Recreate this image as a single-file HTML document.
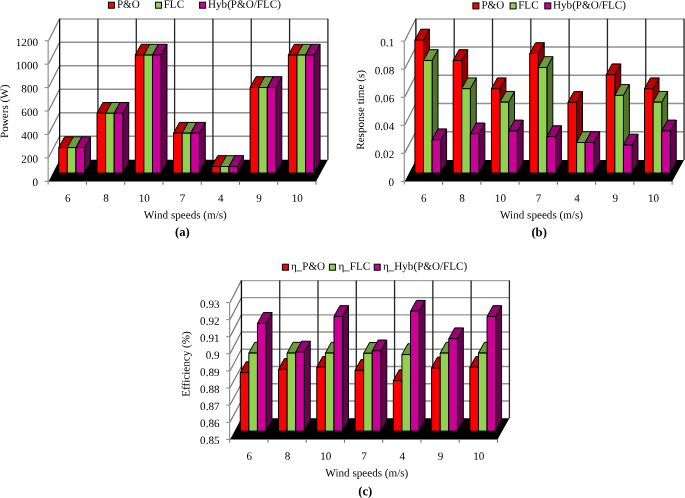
<!DOCTYPE html>
<html><head><meta charset="utf-8"><title>Figure</title>
<style>
html,body{margin:0;padding:0;background:#fff;}
body{width:685px;height:498px;overflow:hidden;}
svg{display:block;}
text{font-family:"Liberation Serif",serif;font-size:11.13px;fill:#000;text-rendering:geometricPrecision;}
</style></head><body>
<svg width="685" height="498" viewBox="0 0 685 498" style="will-change:transform">
<rect width="685" height="498" fill="#fff"/>
<g id="chart-a">
<line x1="59.63" y1="19" x2="327.9" y2="19" stroke="#a2a2a2" stroke-width="1.45"/>
<line x1="48.55" y1="40.75" x2="59.63" y2="18.8" stroke="#787878" stroke-width="1.2"/>
<line x1="59.63" y1="42.28" x2="327.9" y2="42.28" stroke="#929292" stroke-width="1.45"/>
<line x1="48.55" y1="64.09" x2="59.63" y2="42.28" stroke="#787878" stroke-width="1.2"/>
<line x1="59.63" y1="65.77" x2="327.9" y2="65.77" stroke="#929292" stroke-width="1.45"/>
<line x1="48.55" y1="87.43" x2="59.63" y2="65.77" stroke="#787878" stroke-width="1.2"/>
<line x1="59.63" y1="89.25" x2="327.9" y2="89.25" stroke="#929292" stroke-width="1.45"/>
<line x1="48.55" y1="110.78" x2="59.63" y2="89.25" stroke="#787878" stroke-width="1.2"/>
<line x1="59.63" y1="112.73" x2="327.9" y2="112.73" stroke="#929292" stroke-width="1.45"/>
<line x1="48.55" y1="134.12" x2="59.63" y2="112.73" stroke="#787878" stroke-width="1.2"/>
<line x1="59.63" y1="136.22" x2="327.9" y2="136.22" stroke="#929292" stroke-width="1.45"/>
<line x1="48.55" y1="157.46" x2="59.63" y2="136.22" stroke="#787878" stroke-width="1.2"/>
<line x1="59.63" y1="18.8" x2="59.63" y2="159.7" stroke="#0a0a0a" stroke-width="1.3"/>
<line x1="97.95" y1="18.8" x2="97.95" y2="159.7" stroke="#242424" stroke-width="1.3"/>
<line x1="136.28" y1="18.8" x2="136.28" y2="159.7" stroke="#242424" stroke-width="1.3"/>
<line x1="174.6" y1="18.8" x2="174.6" y2="159.7" stroke="#242424" stroke-width="1.3"/>
<line x1="212.93" y1="18.8" x2="212.93" y2="159.7" stroke="#242424" stroke-width="1.3"/>
<line x1="251.25" y1="18.8" x2="251.25" y2="159.7" stroke="#242424" stroke-width="1.3"/>
<line x1="289.58" y1="18.8" x2="289.58" y2="159.7" stroke="#242424" stroke-width="1.3"/>
<line x1="327.9" y1="18.8" x2="327.9" y2="159.7" stroke="#242424" stroke-width="1.3"/>
<line x1="48.15" y1="181.35" x2="316.3" y2="181.35" stroke="#7c7c7c" stroke-width="1.1"/>
<polygon points="48.85,181 316.3,181 327.9,159.7 59.63,159.7" fill="#000"/>
<line x1="48.15" y1="40.75" x2="48.15" y2="184.6" stroke="#8c8c8c" stroke-width="1.15"/>
<line x1="44.65" y1="40.75" x2="48.15" y2="40.75" stroke="#868686" stroke-width="1"/>
<text x="38.05" y="45.95" text-anchor="end" transform="rotate(0.05 38.05 45.95)">1200</text>
<line x1="44.65" y1="64.17" x2="48.15" y2="64.17" stroke="#868686" stroke-width="1"/>
<text x="38.05" y="69.29" text-anchor="end" transform="rotate(0.05 38.05 69.29)">1000</text>
<line x1="44.65" y1="87.6" x2="48.15" y2="87.6" stroke="#868686" stroke-width="1"/>
<text x="38.05" y="92.63" text-anchor="end" transform="rotate(0.05 38.05 92.63)">800</text>
<line x1="44.65" y1="111.03" x2="48.15" y2="111.03" stroke="#868686" stroke-width="1"/>
<text x="38.05" y="115.98" text-anchor="end" transform="rotate(0.05 38.05 115.98)">600</text>
<line x1="44.65" y1="134.45" x2="48.15" y2="134.45" stroke="#868686" stroke-width="1"/>
<text x="38.05" y="139.32" text-anchor="end" transform="rotate(0.05 38.05 139.32)">400</text>
<line x1="44.65" y1="157.87" x2="48.15" y2="157.87" stroke="#868686" stroke-width="1"/>
<text x="38.05" y="162.66" text-anchor="end" transform="rotate(0.05 38.05 162.66)">200</text>
<line x1="44.65" y1="181.3" x2="48.15" y2="181.3" stroke="#868686" stroke-width="1"/>
<text x="38.05" y="186" text-anchor="end" transform="rotate(0.05 38.05 186)">0</text>
<line x1="86.45" y1="180.8" x2="86.45" y2="184.7" stroke="#6e6e6e" stroke-width="1.05"/>
<line x1="124.7" y1="180.8" x2="124.7" y2="184.7" stroke="#6e6e6e" stroke-width="1.05"/>
<line x1="162.95" y1="180.8" x2="162.95" y2="184.7" stroke="#6e6e6e" stroke-width="1.05"/>
<line x1="201.2" y1="180.8" x2="201.2" y2="184.7" stroke="#6e6e6e" stroke-width="1.05"/>
<line x1="239.45" y1="180.8" x2="239.45" y2="184.7" stroke="#6e6e6e" stroke-width="1.05"/>
<line x1="277.7" y1="180.8" x2="277.7" y2="184.7" stroke="#6e6e6e" stroke-width="1.05"/>
<line x1="315.95" y1="180.8" x2="315.95" y2="184.7" stroke="#6e6e6e" stroke-width="1.05"/>
<polygon points="67.35,173 73.25,162.2 73.25,136.8 67.35,147.6" fill="#900000" stroke="#000" stroke-width="1" stroke-linejoin="round"/>
<polygon points="58.75,147.6 67.35,147.6 73.25,136.8 64.65,136.8" fill="#C00000" stroke="#000" stroke-width="1" stroke-linejoin="round"/>
<polygon points="58.75,173 67.35,173 67.35,147.6 58.75,147.6" fill="#FF0000" stroke="#000" stroke-width="1" stroke-linejoin="round"/>
<polygon points="75.95,173 81.85,162.2 81.85,136.8 75.95,147.6" fill="#52752D" stroke="#000" stroke-width="1" stroke-linejoin="round"/>
<polygon points="67.35,147.6 75.95,147.6 81.85,136.8 73.25,136.8" fill="#6E9C3C" stroke="#000" stroke-width="1" stroke-linejoin="round"/>
<polygon points="67.35,173 75.95,173 75.95,147.6 67.35,147.6" fill="#92D050" stroke="#000" stroke-width="1" stroke-linejoin="round"/>
<polygon points="84.55,173 90.45,162.2 90.45,136.8 84.55,147.6" fill="#660050" stroke="#000" stroke-width="1" stroke-linejoin="round"/>
<polygon points="75.95,147.6 84.55,147.6 90.45,136.8 81.85,136.8" fill="#990073" stroke="#000" stroke-width="1" stroke-linejoin="round"/>
<polygon points="75.95,173 84.55,173 84.55,147.6 75.95,147.6" fill="#CC0099" stroke="#000" stroke-width="1" stroke-linejoin="round"/>
<polygon points="105.62,173 111.52,162.2 111.52,102.5 105.62,113.3" fill="#900000" stroke="#000" stroke-width="1" stroke-linejoin="round"/>
<polygon points="97.02,113.3 105.62,113.3 111.52,102.5 102.92,102.5" fill="#C00000" stroke="#000" stroke-width="1" stroke-linejoin="round"/>
<polygon points="97.02,173 105.62,173 105.62,113.3 97.02,113.3" fill="#FF0000" stroke="#000" stroke-width="1" stroke-linejoin="round"/>
<polygon points="114.22,173 120.12,162.2 120.12,102.5 114.22,113.3" fill="#52752D" stroke="#000" stroke-width="1" stroke-linejoin="round"/>
<polygon points="105.62,113.3 114.22,113.3 120.12,102.5 111.52,102.5" fill="#6E9C3C" stroke="#000" stroke-width="1" stroke-linejoin="round"/>
<polygon points="105.62,173 114.22,173 114.22,113.3 105.62,113.3" fill="#92D050" stroke="#000" stroke-width="1" stroke-linejoin="round"/>
<polygon points="122.82,173 128.72,162.2 128.72,102.5 122.82,113.3" fill="#660050" stroke="#000" stroke-width="1" stroke-linejoin="round"/>
<polygon points="114.22,113.3 122.82,113.3 128.72,102.5 120.12,102.5" fill="#990073" stroke="#000" stroke-width="1" stroke-linejoin="round"/>
<polygon points="114.22,173 122.82,173 122.82,113.3 114.22,113.3" fill="#CC0099" stroke="#000" stroke-width="1" stroke-linejoin="round"/>
<polygon points="143.89,173 149.79,162.2 149.79,44.3 143.89,55.1" fill="#900000" stroke="#000" stroke-width="1" stroke-linejoin="round"/>
<polygon points="135.29,55.1 143.89,55.1 149.79,44.3 141.19,44.3" fill="#C00000" stroke="#000" stroke-width="1" stroke-linejoin="round"/>
<polygon points="135.29,173 143.89,173 143.89,55.1 135.29,55.1" fill="#FF0000" stroke="#000" stroke-width="1" stroke-linejoin="round"/>
<polygon points="152.49,173 158.39,162.2 158.39,44.3 152.49,55.1" fill="#52752D" stroke="#000" stroke-width="1" stroke-linejoin="round"/>
<polygon points="143.89,55.1 152.49,55.1 158.39,44.3 149.79,44.3" fill="#6E9C3C" stroke="#000" stroke-width="1" stroke-linejoin="round"/>
<polygon points="143.89,173 152.49,173 152.49,55.1 143.89,55.1" fill="#92D050" stroke="#000" stroke-width="1" stroke-linejoin="round"/>
<polygon points="161.09,173 166.99,162.2 166.99,44.3 161.09,55.1" fill="#660050" stroke="#000" stroke-width="1" stroke-linejoin="round"/>
<polygon points="152.49,55.1 161.09,55.1 166.99,44.3 158.39,44.3" fill="#990073" stroke="#000" stroke-width="1" stroke-linejoin="round"/>
<polygon points="152.49,173 161.09,173 161.09,55.1 152.49,55.1" fill="#CC0099" stroke="#000" stroke-width="1" stroke-linejoin="round"/>
<polygon points="182.16,173 188.06,162.2 188.06,122.4 182.16,133.2" fill="#900000" stroke="#000" stroke-width="1" stroke-linejoin="round"/>
<polygon points="173.56,133.2 182.16,133.2 188.06,122.4 179.46,122.4" fill="#C00000" stroke="#000" stroke-width="1" stroke-linejoin="round"/>
<polygon points="173.56,173 182.16,173 182.16,133.2 173.56,133.2" fill="#FF0000" stroke="#000" stroke-width="1" stroke-linejoin="round"/>
<polygon points="190.76,173 196.66,162.2 196.66,122.4 190.76,133.2" fill="#52752D" stroke="#000" stroke-width="1" stroke-linejoin="round"/>
<polygon points="182.16,133.2 190.76,133.2 196.66,122.4 188.06,122.4" fill="#6E9C3C" stroke="#000" stroke-width="1" stroke-linejoin="round"/>
<polygon points="182.16,173 190.76,173 190.76,133.2 182.16,133.2" fill="#92D050" stroke="#000" stroke-width="1" stroke-linejoin="round"/>
<polygon points="199.36,173 205.26,162.2 205.26,122.4 199.36,133.2" fill="#660050" stroke="#000" stroke-width="1" stroke-linejoin="round"/>
<polygon points="190.76,133.2 199.36,133.2 205.26,122.4 196.66,122.4" fill="#990073" stroke="#000" stroke-width="1" stroke-linejoin="round"/>
<polygon points="190.76,173 199.36,173 199.36,133.2 190.76,133.2" fill="#CC0099" stroke="#000" stroke-width="1" stroke-linejoin="round"/>
<polygon points="220.43,173 226.33,162.2 226.33,155.7 220.43,166.5" fill="#900000" stroke="#000" stroke-width="1" stroke-linejoin="round"/>
<polygon points="211.83,166.5 220.43,166.5 226.33,155.7 217.73,155.7" fill="#C00000" stroke="#000" stroke-width="1" stroke-linejoin="round"/>
<polygon points="211.83,173 220.43,173 220.43,166.5 211.83,166.5" fill="#FF0000" stroke="#000" stroke-width="1" stroke-linejoin="round"/>
<polygon points="229.03,173 234.93,162.2 234.93,155.7 229.03,166.5" fill="#52752D" stroke="#000" stroke-width="1" stroke-linejoin="round"/>
<polygon points="220.43,166.5 229.03,166.5 234.93,155.7 226.33,155.7" fill="#6E9C3C" stroke="#000" stroke-width="1" stroke-linejoin="round"/>
<polygon points="220.43,173 229.03,173 229.03,166.5 220.43,166.5" fill="#92D050" stroke="#000" stroke-width="1" stroke-linejoin="round"/>
<polygon points="237.63,173 243.53,162.2 243.53,155.7 237.63,166.5" fill="#660050" stroke="#000" stroke-width="1" stroke-linejoin="round"/>
<polygon points="229.03,166.5 237.63,166.5 243.53,155.7 234.93,155.7" fill="#990073" stroke="#000" stroke-width="1" stroke-linejoin="round"/>
<polygon points="229.03,173 237.63,173 237.63,166.5 229.03,166.5" fill="#CC0099" stroke="#000" stroke-width="1" stroke-linejoin="round"/>
<polygon points="258.7,173 264.6,162.2 264.6,76.7 258.7,87.5" fill="#900000" stroke="#000" stroke-width="1" stroke-linejoin="round"/>
<polygon points="250.1,87.5 258.7,87.5 264.6,76.7 256,76.7" fill="#C00000" stroke="#000" stroke-width="1" stroke-linejoin="round"/>
<polygon points="250.1,173 258.7,173 258.7,87.5 250.1,87.5" fill="#FF0000" stroke="#000" stroke-width="1" stroke-linejoin="round"/>
<polygon points="267.3,173 273.2,162.2 273.2,76.7 267.3,87.5" fill="#52752D" stroke="#000" stroke-width="1" stroke-linejoin="round"/>
<polygon points="258.7,87.5 267.3,87.5 273.2,76.7 264.6,76.7" fill="#6E9C3C" stroke="#000" stroke-width="1" stroke-linejoin="round"/>
<polygon points="258.7,173 267.3,173 267.3,87.5 258.7,87.5" fill="#92D050" stroke="#000" stroke-width="1" stroke-linejoin="round"/>
<polygon points="275.9,173 281.8,162.2 281.8,76.7 275.9,87.5" fill="#660050" stroke="#000" stroke-width="1" stroke-linejoin="round"/>
<polygon points="267.3,87.5 275.9,87.5 281.8,76.7 273.2,76.7" fill="#990073" stroke="#000" stroke-width="1" stroke-linejoin="round"/>
<polygon points="267.3,173 275.9,173 275.9,87.5 267.3,87.5" fill="#CC0099" stroke="#000" stroke-width="1" stroke-linejoin="round"/>
<polygon points="296.97,173 302.87,162.2 302.87,44.3 296.97,55.1" fill="#900000" stroke="#000" stroke-width="1" stroke-linejoin="round"/>
<polygon points="288.37,55.1 296.97,55.1 302.87,44.3 294.27,44.3" fill="#C00000" stroke="#000" stroke-width="1" stroke-linejoin="round"/>
<polygon points="288.37,173 296.97,173 296.97,55.1 288.37,55.1" fill="#FF0000" stroke="#000" stroke-width="1" stroke-linejoin="round"/>
<polygon points="305.57,173 311.47,162.2 311.47,44.3 305.57,55.1" fill="#52752D" stroke="#000" stroke-width="1" stroke-linejoin="round"/>
<polygon points="296.97,55.1 305.57,55.1 311.47,44.3 302.87,44.3" fill="#6E9C3C" stroke="#000" stroke-width="1" stroke-linejoin="round"/>
<polygon points="296.97,173 305.57,173 305.57,55.1 296.97,55.1" fill="#92D050" stroke="#000" stroke-width="1" stroke-linejoin="round"/>
<polygon points="314.17,173 320.07,162.2 320.07,44.3 314.17,55.1" fill="#660050" stroke="#000" stroke-width="1" stroke-linejoin="round"/>
<polygon points="305.57,55.1 314.17,55.1 320.07,44.3 311.47,44.3" fill="#990073" stroke="#000" stroke-width="1" stroke-linejoin="round"/>
<polygon points="305.57,173 314.17,173 314.17,55.1 305.57,55.1" fill="#CC0099" stroke="#000" stroke-width="1" stroke-linejoin="round"/>
<text x="67.69" y="201.7" text-anchor="middle" transform="rotate(0.05 67.69 201.7)">6</text>
<text x="105.95" y="201.7" text-anchor="middle" transform="rotate(0.05 105.95 201.7)">8</text>
<text x="144.23" y="201.7" text-anchor="middle" transform="rotate(0.05 144.23 201.7)">10</text>
<text x="182.5" y="201.7" text-anchor="middle" transform="rotate(0.05 182.5 201.7)">7</text>
<text x="220.76" y="201.7" text-anchor="middle" transform="rotate(0.05 220.76 201.7)">4</text>
<text x="259.04" y="201.7" text-anchor="middle" transform="rotate(0.05 259.04 201.7)">9</text>
<text x="297.31" y="201.7" text-anchor="middle" transform="rotate(0.05 297.31 201.7)">10</text>
<text x="185.35" y="218.5" text-anchor="middle" transform="rotate(0.05 185.35 218.5)">Wind speeds (m/s)</text>
<text x="182.4" y="236.1" text-anchor="middle" style="font-weight:bold;font-size:12.7px" transform="rotate(0.05 182.4 236.1)">(a)</text>
<text transform="translate(7.95,111.3) rotate(-89.95)" text-anchor="middle">Powers (W)</text>
<rect x="108.4" y="2.2" width="6" height="6" fill="#FF0000" stroke="#000" stroke-width="1"/>
<text x="116.9" y="7.7" transform="rotate(0.05 116.9 7.7)">P&amp;O</text>
<rect x="155.5" y="2.2" width="6" height="6" fill="#92D050" stroke="#000" stroke-width="1"/>
<text x="163.7" y="7.7" transform="rotate(0.05 163.7 7.7)">FLC</text>
<rect x="199.6" y="2.2" width="6" height="6" fill="#CC0099" stroke="#000" stroke-width="1"/>
<text x="208" y="7.7" transform="rotate(0.05 208 7.7)">Hyb(P&amp;O/FLC)</text>
</g>
<g id="chart-b">
<line x1="415.9" y1="19" x2="684.05" y2="19" stroke="#a2a2a2" stroke-width="1.45"/>
<line x1="404.7" y1="41.1" x2="415.9" y2="18.8" stroke="#787878" stroke-width="1.2"/>
<line x1="415.9" y1="47.04" x2="684.05" y2="47.04" stroke="#929292" stroke-width="1.45"/>
<line x1="404.7" y1="69.04" x2="415.9" y2="47.04" stroke="#787878" stroke-width="1.2"/>
<line x1="415.9" y1="75.28" x2="684.05" y2="75.28" stroke="#929292" stroke-width="1.45"/>
<line x1="404.7" y1="96.98" x2="415.9" y2="75.28" stroke="#787878" stroke-width="1.2"/>
<line x1="415.9" y1="103.52" x2="684.05" y2="103.52" stroke="#929292" stroke-width="1.45"/>
<line x1="404.7" y1="124.92" x2="415.9" y2="103.52" stroke="#787878" stroke-width="1.2"/>
<line x1="415.9" y1="131.76" x2="684.05" y2="131.76" stroke="#929292" stroke-width="1.45"/>
<line x1="404.7" y1="152.86" x2="415.9" y2="131.76" stroke="#787878" stroke-width="1.2"/>
<line x1="415.9" y1="18.8" x2="415.9" y2="160" stroke="#0a0a0a" stroke-width="1.3"/>
<line x1="454.21" y1="18.8" x2="454.21" y2="160" stroke="#242424" stroke-width="1.3"/>
<line x1="492.51" y1="18.8" x2="492.51" y2="160" stroke="#242424" stroke-width="1.3"/>
<line x1="530.82" y1="18.8" x2="530.82" y2="160" stroke="#242424" stroke-width="1.3"/>
<line x1="569.13" y1="18.8" x2="569.13" y2="160" stroke="#242424" stroke-width="1.3"/>
<line x1="607.44" y1="18.8" x2="607.44" y2="160" stroke="#242424" stroke-width="1.3"/>
<line x1="645.74" y1="18.8" x2="645.74" y2="160" stroke="#242424" stroke-width="1.3"/>
<line x1="684.05" y1="18.8" x2="684.05" y2="160" stroke="#242424" stroke-width="1.3"/>
<line x1="404.3" y1="181.35" x2="672.45" y2="181.35" stroke="#7c7c7c" stroke-width="1.1"/>
<polygon points="405,181 672.45,181 684.05,160 415.9,160" fill="#000"/>
<line x1="404.3" y1="41.1" x2="404.3" y2="184.6" stroke="#8c8c8c" stroke-width="1.15"/>
<line x1="400.8" y1="41.1" x2="404.3" y2="41.1" stroke="#868686" stroke-width="1"/>
<text x="394.2" y="46.3" text-anchor="end" transform="rotate(0.05 394.2 46.3)">0.1</text>
<line x1="400.8" y1="69.14" x2="404.3" y2="69.14" stroke="#868686" stroke-width="1"/>
<text x="394.2" y="74.24" text-anchor="end" transform="rotate(0.05 394.2 74.24)">0.08</text>
<line x1="400.8" y1="97.18" x2="404.3" y2="97.18" stroke="#868686" stroke-width="1"/>
<text x="394.2" y="102.18" text-anchor="end" transform="rotate(0.05 394.2 102.18)">0.06</text>
<line x1="400.8" y1="125.22" x2="404.3" y2="125.22" stroke="#868686" stroke-width="1"/>
<text x="394.2" y="130.12" text-anchor="end" transform="rotate(0.05 394.2 130.12)">0.04</text>
<line x1="400.8" y1="153.26" x2="404.3" y2="153.26" stroke="#868686" stroke-width="1"/>
<text x="394.2" y="158.06" text-anchor="end" transform="rotate(0.05 394.2 158.06)">0.02</text>
<line x1="400.8" y1="181.3" x2="404.3" y2="181.3" stroke="#868686" stroke-width="1"/>
<text x="394.2" y="186" text-anchor="end" transform="rotate(0.05 394.2 186)">0</text>
<line x1="442.6" y1="180.8" x2="442.6" y2="184.7" stroke="#6e6e6e" stroke-width="1.05"/>
<line x1="480.85" y1="180.8" x2="480.85" y2="184.7" stroke="#6e6e6e" stroke-width="1.05"/>
<line x1="519.1" y1="180.8" x2="519.1" y2="184.7" stroke="#6e6e6e" stroke-width="1.05"/>
<line x1="557.35" y1="180.8" x2="557.35" y2="184.7" stroke="#6e6e6e" stroke-width="1.05"/>
<line x1="595.6" y1="180.8" x2="595.6" y2="184.7" stroke="#6e6e6e" stroke-width="1.05"/>
<line x1="633.85" y1="180.8" x2="633.85" y2="184.7" stroke="#6e6e6e" stroke-width="1.05"/>
<line x1="672.1" y1="180.8" x2="672.1" y2="184.7" stroke="#6e6e6e" stroke-width="1.05"/>
<polygon points="423.5,173 429.4,162.2 429.4,29.2 423.5,40" fill="#900000" stroke="#000" stroke-width="1" stroke-linejoin="round"/>
<polygon points="414.9,40 423.5,40 429.4,29.2 420.8,29.2" fill="#C00000" stroke="#000" stroke-width="1" stroke-linejoin="round"/>
<polygon points="414.9,173 423.5,173 423.5,40 414.9,40" fill="#FF0000" stroke="#000" stroke-width="1" stroke-linejoin="round"/>
<polygon points="432.1,173 438,162.2 438,49.7 432.1,60.5" fill="#52752D" stroke="#000" stroke-width="1" stroke-linejoin="round"/>
<polygon points="423.5,60.5 432.1,60.5 438,49.7 429.4,49.7" fill="#6E9C3C" stroke="#000" stroke-width="1" stroke-linejoin="round"/>
<polygon points="423.5,173 432.1,173 432.1,60.5 423.5,60.5" fill="#92D050" stroke="#000" stroke-width="1" stroke-linejoin="round"/>
<polygon points="440.7,173 446.6,162.2 446.6,128.9 440.7,139.7" fill="#660050" stroke="#000" stroke-width="1" stroke-linejoin="round"/>
<polygon points="432.1,139.7 440.7,139.7 446.6,128.9 438,128.9" fill="#990073" stroke="#000" stroke-width="1" stroke-linejoin="round"/>
<polygon points="432.1,173 440.7,173 440.7,139.7 432.1,139.7" fill="#CC0099" stroke="#000" stroke-width="1" stroke-linejoin="round"/>
<polygon points="461.77,173 467.67,162.2 467.67,49.7 461.77,60.5" fill="#900000" stroke="#000" stroke-width="1" stroke-linejoin="round"/>
<polygon points="453.17,60.5 461.77,60.5 467.67,49.7 459.07,49.7" fill="#C00000" stroke="#000" stroke-width="1" stroke-linejoin="round"/>
<polygon points="453.17,173 461.77,173 461.77,60.5 453.17,60.5" fill="#FF0000" stroke="#000" stroke-width="1" stroke-linejoin="round"/>
<polygon points="470.37,173 476.27,162.2 476.27,77.9 470.37,88.7" fill="#52752D" stroke="#000" stroke-width="1" stroke-linejoin="round"/>
<polygon points="461.77,88.7 470.37,88.7 476.27,77.9 467.67,77.9" fill="#6E9C3C" stroke="#000" stroke-width="1" stroke-linejoin="round"/>
<polygon points="461.77,173 470.37,173 470.37,88.7 461.77,88.7" fill="#92D050" stroke="#000" stroke-width="1" stroke-linejoin="round"/>
<polygon points="478.97,173 484.87,162.2 484.87,123 478.97,133.8" fill="#660050" stroke="#000" stroke-width="1" stroke-linejoin="round"/>
<polygon points="470.37,133.8 478.97,133.8 484.87,123 476.27,123" fill="#990073" stroke="#000" stroke-width="1" stroke-linejoin="round"/>
<polygon points="470.37,173 478.97,173 478.97,133.8 470.37,133.8" fill="#CC0099" stroke="#000" stroke-width="1" stroke-linejoin="round"/>
<polygon points="500.04,173 505.94,162.2 505.94,77.9 500.04,88.7" fill="#900000" stroke="#000" stroke-width="1" stroke-linejoin="round"/>
<polygon points="491.44,88.7 500.04,88.7 505.94,77.9 497.34,77.9" fill="#C00000" stroke="#000" stroke-width="1" stroke-linejoin="round"/>
<polygon points="491.44,173 500.04,173 500.04,88.7 491.44,88.7" fill="#FF0000" stroke="#000" stroke-width="1" stroke-linejoin="round"/>
<polygon points="508.64,173 514.54,162.2 514.54,91.4 508.64,102.2" fill="#52752D" stroke="#000" stroke-width="1" stroke-linejoin="round"/>
<polygon points="500.04,102.2 508.64,102.2 514.54,91.4 505.94,91.4" fill="#6E9C3C" stroke="#000" stroke-width="1" stroke-linejoin="round"/>
<polygon points="500.04,173 508.64,173 508.64,102.2 500.04,102.2" fill="#92D050" stroke="#000" stroke-width="1" stroke-linejoin="round"/>
<polygon points="517.24,173 523.14,162.2 523.14,120.1 517.24,130.9" fill="#660050" stroke="#000" stroke-width="1" stroke-linejoin="round"/>
<polygon points="508.64,130.9 517.24,130.9 523.14,120.1 514.54,120.1" fill="#990073" stroke="#000" stroke-width="1" stroke-linejoin="round"/>
<polygon points="508.64,173 517.24,173 517.24,130.9 508.64,130.9" fill="#CC0099" stroke="#000" stroke-width="1" stroke-linejoin="round"/>
<polygon points="538.31,173 544.21,162.2 544.21,42.7 538.31,53.5" fill="#900000" stroke="#000" stroke-width="1" stroke-linejoin="round"/>
<polygon points="529.71,53.5 538.31,53.5 544.21,42.7 535.61,42.7" fill="#C00000" stroke="#000" stroke-width="1" stroke-linejoin="round"/>
<polygon points="529.71,173 538.31,173 538.31,53.5 529.71,53.5" fill="#FF0000" stroke="#000" stroke-width="1" stroke-linejoin="round"/>
<polygon points="546.91,173 552.81,162.2 552.81,56.7 546.91,67.5" fill="#52752D" stroke="#000" stroke-width="1" stroke-linejoin="round"/>
<polygon points="538.31,67.5 546.91,67.5 552.81,56.7 544.21,56.7" fill="#6E9C3C" stroke="#000" stroke-width="1" stroke-linejoin="round"/>
<polygon points="538.31,173 546.91,173 546.91,67.5 538.31,67.5" fill="#92D050" stroke="#000" stroke-width="1" stroke-linejoin="round"/>
<polygon points="555.51,173 561.41,162.2 561.41,125.8 555.51,136.6" fill="#660050" stroke="#000" stroke-width="1" stroke-linejoin="round"/>
<polygon points="546.91,136.6 555.51,136.6 561.41,125.8 552.81,125.8" fill="#990073" stroke="#000" stroke-width="1" stroke-linejoin="round"/>
<polygon points="546.91,173 555.51,173 555.51,136.6 546.91,136.6" fill="#CC0099" stroke="#000" stroke-width="1" stroke-linejoin="round"/>
<polygon points="576.58,173 582.48,162.2 582.48,91.6 576.58,102.4" fill="#900000" stroke="#000" stroke-width="1" stroke-linejoin="round"/>
<polygon points="567.98,102.4 576.58,102.4 582.48,91.6 573.88,91.6" fill="#C00000" stroke="#000" stroke-width="1" stroke-linejoin="round"/>
<polygon points="567.98,173 576.58,173 576.58,102.4 567.98,102.4" fill="#FF0000" stroke="#000" stroke-width="1" stroke-linejoin="round"/>
<polygon points="585.18,173 591.08,162.2 591.08,131.7 585.18,142.5" fill="#52752D" stroke="#000" stroke-width="1" stroke-linejoin="round"/>
<polygon points="576.58,142.5 585.18,142.5 591.08,131.7 582.48,131.7" fill="#6E9C3C" stroke="#000" stroke-width="1" stroke-linejoin="round"/>
<polygon points="576.58,173 585.18,173 585.18,142.5 576.58,142.5" fill="#92D050" stroke="#000" stroke-width="1" stroke-linejoin="round"/>
<polygon points="593.78,173 599.68,162.2 599.68,131.7 593.78,142.5" fill="#660050" stroke="#000" stroke-width="1" stroke-linejoin="round"/>
<polygon points="585.18,142.5 593.78,142.5 599.68,131.7 591.08,131.7" fill="#990073" stroke="#000" stroke-width="1" stroke-linejoin="round"/>
<polygon points="585.18,173 593.78,173 593.78,142.5 585.18,142.5" fill="#CC0099" stroke="#000" stroke-width="1" stroke-linejoin="round"/>
<polygon points="614.85,173 620.75,162.2 620.75,63.9 614.85,74.7" fill="#900000" stroke="#000" stroke-width="1" stroke-linejoin="round"/>
<polygon points="606.25,74.7 614.85,74.7 620.75,63.9 612.15,63.9" fill="#C00000" stroke="#000" stroke-width="1" stroke-linejoin="round"/>
<polygon points="606.25,173 614.85,173 614.85,74.7 606.25,74.7" fill="#FF0000" stroke="#000" stroke-width="1" stroke-linejoin="round"/>
<polygon points="623.45,173 629.35,162.2 629.35,84.6 623.45,95.4" fill="#52752D" stroke="#000" stroke-width="1" stroke-linejoin="round"/>
<polygon points="614.85,95.4 623.45,95.4 629.35,84.6 620.75,84.6" fill="#6E9C3C" stroke="#000" stroke-width="1" stroke-linejoin="round"/>
<polygon points="614.85,173 623.45,173 623.45,95.4 614.85,95.4" fill="#92D050" stroke="#000" stroke-width="1" stroke-linejoin="round"/>
<polygon points="632.05,173 637.95,162.2 637.95,134.2 632.05,145" fill="#660050" stroke="#000" stroke-width="1" stroke-linejoin="round"/>
<polygon points="623.45,145 632.05,145 637.95,134.2 629.35,134.2" fill="#990073" stroke="#000" stroke-width="1" stroke-linejoin="round"/>
<polygon points="623.45,173 632.05,173 632.05,145 623.45,145" fill="#CC0099" stroke="#000" stroke-width="1" stroke-linejoin="round"/>
<polygon points="653.12,173 659.02,162.2 659.02,77.9 653.12,88.7" fill="#900000" stroke="#000" stroke-width="1" stroke-linejoin="round"/>
<polygon points="644.52,88.7 653.12,88.7 659.02,77.9 650.42,77.9" fill="#C00000" stroke="#000" stroke-width="1" stroke-linejoin="round"/>
<polygon points="644.52,173 653.12,173 653.12,88.7 644.52,88.7" fill="#FF0000" stroke="#000" stroke-width="1" stroke-linejoin="round"/>
<polygon points="661.72,173 667.62,162.2 667.62,91.4 661.72,102.2" fill="#52752D" stroke="#000" stroke-width="1" stroke-linejoin="round"/>
<polygon points="653.12,102.2 661.72,102.2 667.62,91.4 659.02,91.4" fill="#6E9C3C" stroke="#000" stroke-width="1" stroke-linejoin="round"/>
<polygon points="653.12,173 661.72,173 661.72,102.2 653.12,102.2" fill="#92D050" stroke="#000" stroke-width="1" stroke-linejoin="round"/>
<polygon points="670.32,173 676.22,162.2 676.22,120.1 670.32,130.9" fill="#660050" stroke="#000" stroke-width="1" stroke-linejoin="round"/>
<polygon points="661.72,130.9 670.32,130.9 676.22,120.1 667.62,120.1" fill="#990073" stroke="#000" stroke-width="1" stroke-linejoin="round"/>
<polygon points="661.72,173 670.32,173 670.32,130.9 661.72,130.9" fill="#CC0099" stroke="#000" stroke-width="1" stroke-linejoin="round"/>
<text x="423.83" y="201.7" text-anchor="middle" transform="rotate(0.05 423.83 201.7)">6</text>
<text x="462.11" y="201.7" text-anchor="middle" transform="rotate(0.05 462.11 201.7)">8</text>
<text x="500.38" y="201.7" text-anchor="middle" transform="rotate(0.05 500.38 201.7)">10</text>
<text x="538.64" y="201.7" text-anchor="middle" transform="rotate(0.05 538.64 201.7)">7</text>
<text x="576.91" y="201.7" text-anchor="middle" transform="rotate(0.05 576.91 201.7)">4</text>
<text x="615.18" y="201.7" text-anchor="middle" transform="rotate(0.05 615.18 201.7)">9</text>
<text x="653.46" y="201.7" text-anchor="middle" transform="rotate(0.05 653.46 201.7)">10</text>
<text x="541.5" y="218.5" text-anchor="middle" transform="rotate(0.05 541.5 218.5)">Wind speeds (m/s)</text>
<text x="539.15" y="236.2" text-anchor="middle" style="font-weight:bold;font-size:12.7px" transform="rotate(0.05 539.15 236.2)">(b)</text>
<text transform="translate(364.1,109.9) rotate(-89.95)" text-anchor="middle">Response time (s)</text>
<rect x="472.9" y="2.9" width="6" height="6" fill="#FF0000" stroke="#000" stroke-width="1"/>
<text x="481.4" y="8.4" transform="rotate(0.05 481.4 8.4)">P&amp;O</text>
<rect x="510.1" y="2.9" width="6" height="6" fill="#92D050" stroke="#000" stroke-width="1"/>
<text x="518.2" y="8.4" transform="rotate(0.05 518.2 8.4)">FLC</text>
<rect x="544.8" y="2.9" width="6" height="6" fill="#CC0099" stroke="#000" stroke-width="1"/>
<text x="553" y="8.4" transform="rotate(0.05 553 8.4)">Hyb(P&amp;O/FLC)</text>
</g>
<g id="chart-c">
<line x1="241.45" y1="280.6" x2="509.4" y2="280.6" stroke="#a2a2a2" stroke-width="1.45"/>
<line x1="230.05" y1="302.5" x2="241.45" y2="280.4" stroke="#787878" stroke-width="1.2"/>
<line x1="241.45" y1="297.62" x2="509.4" y2="297.62" stroke="#929292" stroke-width="1.45"/>
<line x1="230.05" y1="319.55" x2="241.45" y2="297.62" stroke="#787878" stroke-width="1.2"/>
<line x1="241.45" y1="314.85" x2="509.4" y2="314.85" stroke="#929292" stroke-width="1.45"/>
<line x1="230.05" y1="336.6" x2="241.45" y2="314.85" stroke="#787878" stroke-width="1.2"/>
<line x1="241.45" y1="332.07" x2="509.4" y2="332.07" stroke="#929292" stroke-width="1.45"/>
<line x1="230.05" y1="353.65" x2="241.45" y2="332.07" stroke="#787878" stroke-width="1.2"/>
<line x1="241.45" y1="349.3" x2="509.4" y2="349.3" stroke="#929292" stroke-width="1.45"/>
<line x1="230.05" y1="370.7" x2="241.45" y2="349.3" stroke="#787878" stroke-width="1.2"/>
<line x1="241.45" y1="366.52" x2="509.4" y2="366.52" stroke="#929292" stroke-width="1.45"/>
<line x1="230.05" y1="387.75" x2="241.45" y2="366.52" stroke="#787878" stroke-width="1.2"/>
<line x1="241.45" y1="383.75" x2="509.4" y2="383.75" stroke="#929292" stroke-width="1.45"/>
<line x1="230.05" y1="404.8" x2="241.45" y2="383.75" stroke="#787878" stroke-width="1.2"/>
<line x1="241.45" y1="400.98" x2="509.4" y2="400.98" stroke="#929292" stroke-width="1.45"/>
<line x1="230.05" y1="421.85" x2="241.45" y2="400.98" stroke="#787878" stroke-width="1.2"/>
<line x1="241.45" y1="280.4" x2="241.45" y2="418.2" stroke="#0a0a0a" stroke-width="1.3"/>
<line x1="279.73" y1="280.4" x2="279.73" y2="418.2" stroke="#242424" stroke-width="1.3"/>
<line x1="318.01" y1="280.4" x2="318.01" y2="418.2" stroke="#242424" stroke-width="1.3"/>
<line x1="356.29" y1="280.4" x2="356.29" y2="418.2" stroke="#242424" stroke-width="1.3"/>
<line x1="394.56" y1="280.4" x2="394.56" y2="418.2" stroke="#242424" stroke-width="1.3"/>
<line x1="432.84" y1="280.4" x2="432.84" y2="418.2" stroke="#242424" stroke-width="1.3"/>
<line x1="471.12" y1="280.4" x2="471.12" y2="418.2" stroke="#242424" stroke-width="1.3"/>
<line x1="509.4" y1="280.4" x2="509.4" y2="418.2" stroke="#242424" stroke-width="1.3"/>
<line x1="229.65" y1="439.45" x2="497.8" y2="439.45" stroke="#7c7c7c" stroke-width="1.1"/>
<polygon points="230.35,439.1 497.8,439.1 509.4,418.2 241.45,418.2" fill="#000"/>
<line x1="229.65" y1="302.5" x2="229.65" y2="442.7" stroke="#8c8c8c" stroke-width="1.15"/>
<line x1="226.15" y1="302.5" x2="229.65" y2="302.5" stroke="#868686" stroke-width="1"/>
<text x="219.55" y="307.7" text-anchor="end" transform="rotate(0.05 219.55 307.7)">0.93</text>
<line x1="226.15" y1="319.61" x2="229.65" y2="319.61" stroke="#868686" stroke-width="1"/>
<text x="219.55" y="324.75" text-anchor="end" transform="rotate(0.05 219.55 324.75)">0.92</text>
<line x1="226.15" y1="336.73" x2="229.65" y2="336.73" stroke="#868686" stroke-width="1"/>
<text x="219.55" y="341.8" text-anchor="end" transform="rotate(0.05 219.55 341.8)">0.91</text>
<line x1="226.15" y1="353.84" x2="229.65" y2="353.84" stroke="#868686" stroke-width="1"/>
<text x="219.55" y="358.85" text-anchor="end" transform="rotate(0.05 219.55 358.85)">0.9</text>
<line x1="226.15" y1="370.95" x2="229.65" y2="370.95" stroke="#868686" stroke-width="1"/>
<text x="219.55" y="375.9" text-anchor="end" transform="rotate(0.05 219.55 375.9)">0.89</text>
<line x1="226.15" y1="388.06" x2="229.65" y2="388.06" stroke="#868686" stroke-width="1"/>
<text x="219.55" y="392.95" text-anchor="end" transform="rotate(0.05 219.55 392.95)">0.88</text>
<line x1="226.15" y1="405.17" x2="229.65" y2="405.17" stroke="#868686" stroke-width="1"/>
<text x="219.55" y="410" text-anchor="end" transform="rotate(0.05 219.55 410)">0.87</text>
<line x1="226.15" y1="422.29" x2="229.65" y2="422.29" stroke="#868686" stroke-width="1"/>
<text x="219.55" y="427.05" text-anchor="end" transform="rotate(0.05 219.55 427.05)">0.86</text>
<line x1="226.15" y1="439.4" x2="229.65" y2="439.4" stroke="#868686" stroke-width="1"/>
<text x="219.55" y="444.1" text-anchor="end" transform="rotate(0.05 219.55 444.1)">0.85</text>
<line x1="267.95" y1="438.9" x2="267.95" y2="442.8" stroke="#6e6e6e" stroke-width="1.05"/>
<line x1="306.2" y1="438.9" x2="306.2" y2="442.8" stroke="#6e6e6e" stroke-width="1.05"/>
<line x1="344.45" y1="438.9" x2="344.45" y2="442.8" stroke="#6e6e6e" stroke-width="1.05"/>
<line x1="382.7" y1="438.9" x2="382.7" y2="442.8" stroke="#6e6e6e" stroke-width="1.05"/>
<line x1="420.95" y1="438.9" x2="420.95" y2="442.8" stroke="#6e6e6e" stroke-width="1.05"/>
<line x1="459.2" y1="438.9" x2="459.2" y2="442.8" stroke="#6e6e6e" stroke-width="1.05"/>
<line x1="497.45" y1="438.9" x2="497.45" y2="442.8" stroke="#6e6e6e" stroke-width="1.05"/>
<polygon points="248.85,431.1 254.75,420.3 254.75,361.8 248.85,372.6" fill="#900000" stroke="#000" stroke-width="1" stroke-linejoin="round"/>
<polygon points="240.25,372.6 248.85,372.6 254.75,361.8 246.15,361.8" fill="#C00000" stroke="#000" stroke-width="1" stroke-linejoin="round"/>
<polygon points="240.25,431.1 248.85,431.1 248.85,372.6 240.25,372.6" fill="#FF0000" stroke="#000" stroke-width="1" stroke-linejoin="round"/>
<polygon points="257.45,431.1 263.35,420.3 263.35,342.3 257.45,353.1" fill="#52752D" stroke="#000" stroke-width="1" stroke-linejoin="round"/>
<polygon points="248.85,353.1 257.45,353.1 263.35,342.3 254.75,342.3" fill="#6E9C3C" stroke="#000" stroke-width="1" stroke-linejoin="round"/>
<polygon points="248.85,431.1 257.45,431.1 257.45,353.1 248.85,353.1" fill="#92D050" stroke="#000" stroke-width="1" stroke-linejoin="round"/>
<polygon points="266.05,431.1 271.95,420.3 271.95,312.6 266.05,323.4" fill="#660050" stroke="#000" stroke-width="1" stroke-linejoin="round"/>
<polygon points="257.45,323.4 266.05,323.4 271.95,312.6 263.35,312.6" fill="#990073" stroke="#000" stroke-width="1" stroke-linejoin="round"/>
<polygon points="257.45,431.1 266.05,431.1 266.05,323.4 257.45,323.4" fill="#CC0099" stroke="#000" stroke-width="1" stroke-linejoin="round"/>
<polygon points="287.12,431.1 293.02,420.3 293.02,358.6 287.12,369.4" fill="#900000" stroke="#000" stroke-width="1" stroke-linejoin="round"/>
<polygon points="278.52,369.4 287.12,369.4 293.02,358.6 284.42,358.6" fill="#C00000" stroke="#000" stroke-width="1" stroke-linejoin="round"/>
<polygon points="278.52,431.1 287.12,431.1 287.12,369.4 278.52,369.4" fill="#FF0000" stroke="#000" stroke-width="1" stroke-linejoin="round"/>
<polygon points="295.72,431.1 301.62,420.3 301.62,342.3 295.72,353.1" fill="#52752D" stroke="#000" stroke-width="1" stroke-linejoin="round"/>
<polygon points="287.12,353.1 295.72,353.1 301.62,342.3 293.02,342.3" fill="#6E9C3C" stroke="#000" stroke-width="1" stroke-linejoin="round"/>
<polygon points="287.12,431.1 295.72,431.1 295.72,353.1 287.12,353.1" fill="#92D050" stroke="#000" stroke-width="1" stroke-linejoin="round"/>
<polygon points="304.32,431.1 310.22,420.3 310.22,341.2 304.32,352" fill="#660050" stroke="#000" stroke-width="1" stroke-linejoin="round"/>
<polygon points="295.72,352 304.32,352 310.22,341.2 301.62,341.2" fill="#990073" stroke="#000" stroke-width="1" stroke-linejoin="round"/>
<polygon points="295.72,431.1 304.32,431.1 304.32,352 295.72,352" fill="#CC0099" stroke="#000" stroke-width="1" stroke-linejoin="round"/>
<polygon points="325.39,431.1 331.29,420.3 331.29,356.5 325.39,367.3" fill="#900000" stroke="#000" stroke-width="1" stroke-linejoin="round"/>
<polygon points="316.79,367.3 325.39,367.3 331.29,356.5 322.69,356.5" fill="#C00000" stroke="#000" stroke-width="1" stroke-linejoin="round"/>
<polygon points="316.79,431.1 325.39,431.1 325.39,367.3 316.79,367.3" fill="#FF0000" stroke="#000" stroke-width="1" stroke-linejoin="round"/>
<polygon points="333.99,431.1 339.89,420.3 339.89,342.3 333.99,353.1" fill="#52752D" stroke="#000" stroke-width="1" stroke-linejoin="round"/>
<polygon points="325.39,353.1 333.99,353.1 339.89,342.3 331.29,342.3" fill="#6E9C3C" stroke="#000" stroke-width="1" stroke-linejoin="round"/>
<polygon points="325.39,431.1 333.99,431.1 333.99,353.1 325.39,353.1" fill="#92D050" stroke="#000" stroke-width="1" stroke-linejoin="round"/>
<polygon points="342.59,431.1 348.49,420.3 348.49,305.7 342.59,316.5" fill="#660050" stroke="#000" stroke-width="1" stroke-linejoin="round"/>
<polygon points="333.99,316.5 342.59,316.5 348.49,305.7 339.89,305.7" fill="#990073" stroke="#000" stroke-width="1" stroke-linejoin="round"/>
<polygon points="333.99,431.1 342.59,431.1 342.59,316.5 333.99,316.5" fill="#CC0099" stroke="#000" stroke-width="1" stroke-linejoin="round"/>
<polygon points="363.66,431.1 369.56,420.3 369.56,359.6 363.66,370.4" fill="#900000" stroke="#000" stroke-width="1" stroke-linejoin="round"/>
<polygon points="355.06,370.4 363.66,370.4 369.56,359.6 360.96,359.6" fill="#C00000" stroke="#000" stroke-width="1" stroke-linejoin="round"/>
<polygon points="355.06,431.1 363.66,431.1 363.66,370.4 355.06,370.4" fill="#FF0000" stroke="#000" stroke-width="1" stroke-linejoin="round"/>
<polygon points="372.26,431.1 378.16,420.3 378.16,342.5 372.26,353.3" fill="#52752D" stroke="#000" stroke-width="1" stroke-linejoin="round"/>
<polygon points="363.66,353.3 372.26,353.3 378.16,342.5 369.56,342.5" fill="#6E9C3C" stroke="#000" stroke-width="1" stroke-linejoin="round"/>
<polygon points="363.66,431.1 372.26,431.1 372.26,353.3 363.66,353.3" fill="#92D050" stroke="#000" stroke-width="1" stroke-linejoin="round"/>
<polygon points="380.86,431.1 386.76,420.3 386.76,340 380.86,350.8" fill="#660050" stroke="#000" stroke-width="1" stroke-linejoin="round"/>
<polygon points="372.26,350.8 380.86,350.8 386.76,340 378.16,340" fill="#990073" stroke="#000" stroke-width="1" stroke-linejoin="round"/>
<polygon points="372.26,431.1 380.86,431.1 380.86,350.8 372.26,350.8" fill="#CC0099" stroke="#000" stroke-width="1" stroke-linejoin="round"/>
<polygon points="401.93,431.1 407.83,420.3 407.83,369.8 401.93,380.6" fill="#900000" stroke="#000" stroke-width="1" stroke-linejoin="round"/>
<polygon points="393.33,380.6 401.93,380.6 407.83,369.8 399.23,369.8" fill="#C00000" stroke="#000" stroke-width="1" stroke-linejoin="round"/>
<polygon points="393.33,431.1 401.93,431.1 401.93,380.6 393.33,380.6" fill="#FF0000" stroke="#000" stroke-width="1" stroke-linejoin="round"/>
<polygon points="410.53,431.1 416.43,420.3 416.43,343.8 410.53,354.6" fill="#52752D" stroke="#000" stroke-width="1" stroke-linejoin="round"/>
<polygon points="401.93,354.6 410.53,354.6 416.43,343.8 407.83,343.8" fill="#6E9C3C" stroke="#000" stroke-width="1" stroke-linejoin="round"/>
<polygon points="401.93,431.1 410.53,431.1 410.53,354.6 401.93,354.6" fill="#92D050" stroke="#000" stroke-width="1" stroke-linejoin="round"/>
<polygon points="419.13,431.1 425.03,420.3 425.03,300.4 419.13,311.2" fill="#660050" stroke="#000" stroke-width="1" stroke-linejoin="round"/>
<polygon points="410.53,311.2 419.13,311.2 425.03,300.4 416.43,300.4" fill="#990073" stroke="#000" stroke-width="1" stroke-linejoin="round"/>
<polygon points="410.53,431.1 419.13,431.1 419.13,311.2 410.53,311.2" fill="#CC0099" stroke="#000" stroke-width="1" stroke-linejoin="round"/>
<polygon points="440.2,431.1 446.1,420.3 446.1,357.1 440.2,367.9" fill="#900000" stroke="#000" stroke-width="1" stroke-linejoin="round"/>
<polygon points="431.6,367.9 440.2,367.9 446.1,357.1 437.5,357.1" fill="#C00000" stroke="#000" stroke-width="1" stroke-linejoin="round"/>
<polygon points="431.6,431.1 440.2,431.1 440.2,367.9 431.6,367.9" fill="#FF0000" stroke="#000" stroke-width="1" stroke-linejoin="round"/>
<polygon points="448.8,431.1 454.7,420.3 454.7,342.3 448.8,353.1" fill="#52752D" stroke="#000" stroke-width="1" stroke-linejoin="round"/>
<polygon points="440.2,353.1 448.8,353.1 454.7,342.3 446.1,342.3" fill="#6E9C3C" stroke="#000" stroke-width="1" stroke-linejoin="round"/>
<polygon points="440.2,431.1 448.8,431.1 448.8,353.1 440.2,353.1" fill="#92D050" stroke="#000" stroke-width="1" stroke-linejoin="round"/>
<polygon points="457.4,431.1 463.3,420.3 463.3,327.9 457.4,338.7" fill="#660050" stroke="#000" stroke-width="1" stroke-linejoin="round"/>
<polygon points="448.8,338.7 457.4,338.7 463.3,327.9 454.7,327.9" fill="#990073" stroke="#000" stroke-width="1" stroke-linejoin="round"/>
<polygon points="448.8,431.1 457.4,431.1 457.4,338.7 448.8,338.7" fill="#CC0099" stroke="#000" stroke-width="1" stroke-linejoin="round"/>
<polygon points="478.47,431.1 484.37,420.3 484.37,356.5 478.47,367.3" fill="#900000" stroke="#000" stroke-width="1" stroke-linejoin="round"/>
<polygon points="469.87,367.3 478.47,367.3 484.37,356.5 475.77,356.5" fill="#C00000" stroke="#000" stroke-width="1" stroke-linejoin="round"/>
<polygon points="469.87,431.1 478.47,431.1 478.47,367.3 469.87,367.3" fill="#FF0000" stroke="#000" stroke-width="1" stroke-linejoin="round"/>
<polygon points="487.07,431.1 492.97,420.3 492.97,342.3 487.07,353.1" fill="#52752D" stroke="#000" stroke-width="1" stroke-linejoin="round"/>
<polygon points="478.47,353.1 487.07,353.1 492.97,342.3 484.37,342.3" fill="#6E9C3C" stroke="#000" stroke-width="1" stroke-linejoin="round"/>
<polygon points="478.47,431.1 487.07,431.1 487.07,353.1 478.47,353.1" fill="#92D050" stroke="#000" stroke-width="1" stroke-linejoin="round"/>
<polygon points="495.67,431.1 501.57,420.3 501.57,305.7 495.67,316.5" fill="#660050" stroke="#000" stroke-width="1" stroke-linejoin="round"/>
<polygon points="487.07,316.5 495.67,316.5 501.57,305.7 492.97,305.7" fill="#990073" stroke="#000" stroke-width="1" stroke-linejoin="round"/>
<polygon points="487.07,431.1 495.67,431.1 495.67,316.5 487.07,316.5" fill="#CC0099" stroke="#000" stroke-width="1" stroke-linejoin="round"/>
<text x="249.19" y="459.8" text-anchor="middle" transform="rotate(0.05 249.19 459.8)">6</text>
<text x="287.46" y="459.8" text-anchor="middle" transform="rotate(0.05 287.46 459.8)">8</text>
<text x="325.73" y="459.8" text-anchor="middle" transform="rotate(0.05 325.73 459.8)">10</text>
<text x="364" y="459.8" text-anchor="middle" transform="rotate(0.05 364 459.8)">7</text>
<text x="402.26" y="459.8" text-anchor="middle" transform="rotate(0.05 402.26 459.8)">4</text>
<text x="440.54" y="459.8" text-anchor="middle" transform="rotate(0.05 440.54 459.8)">9</text>
<text x="478.81" y="459.8" text-anchor="middle" transform="rotate(0.05 478.81 459.8)">10</text>
<text x="366.85" y="476.6" text-anchor="middle" transform="rotate(0.05 366.85 476.6)">Wind speeds (m/s)</text>
<text x="365.25" y="495.2" text-anchor="middle" style="font-weight:bold;font-size:12.7px" transform="rotate(0.05 365.25 495.2)">(c)</text>
<text transform="translate(189.45,364) rotate(-89.95)" text-anchor="middle">Efficiency (%)</text>
<rect x="282.4" y="264.2" width="6" height="6" fill="#FF0000" stroke="#000" stroke-width="1"/>
<text x="290.9" y="269.7" transform="rotate(0.05 290.9 269.7)">η_P&amp;O</text>
<rect x="329.4" y="264.2" width="6" height="6" fill="#92D050" stroke="#000" stroke-width="1"/>
<text x="338.4" y="269.7" transform="rotate(0.05 338.4 269.7)">η_FLC</text>
<rect x="374.2" y="264.2" width="6" height="6" fill="#CC0099" stroke="#000" stroke-width="1"/>
<text x="382.9" y="269.7" transform="rotate(0.05 382.9 269.7)">η_Hyb(P&amp;O/FLC)</text>
</g>
</svg>
</body></html>
